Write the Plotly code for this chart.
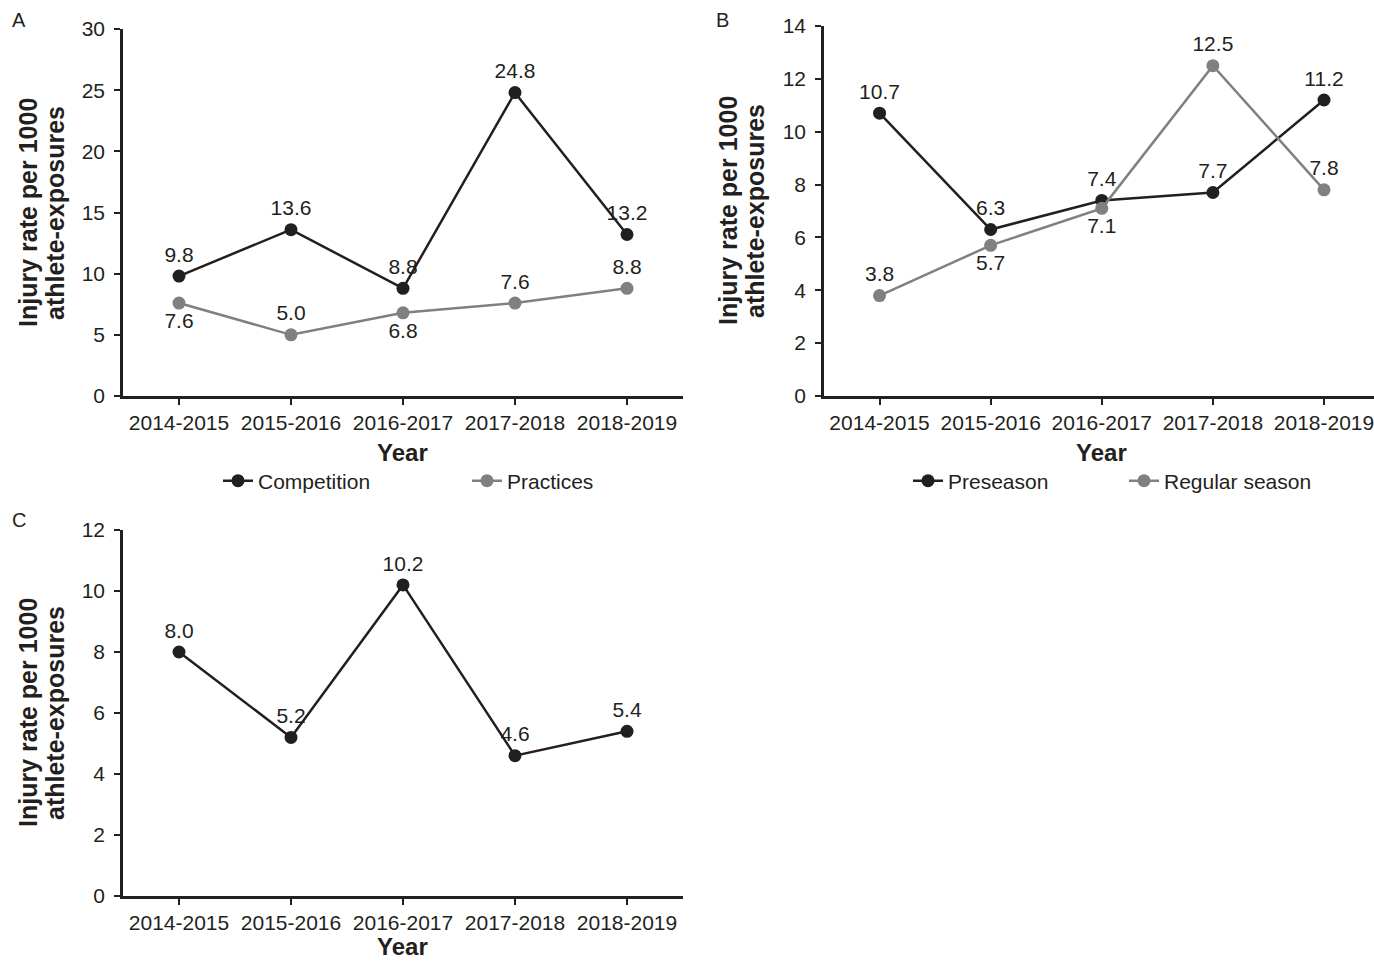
import plotly.graph_objects as go

years = ["2014-2015", "2015-2016", "2016-2017", "2017-2018", "2018-2019"]

# Panel A
competition = [9.8, 13.6, 8.8, 24.8, 13.2]
practices = [7.6, 5.0, 6.8, 7.6, 8.8]
competition_pos = ["top center"] * 5
practices_pos = ["bottom center", "top center", "bottom center", "top center", "top center"]

# Panel B
preseason = [10.7, 6.3, 7.4, 7.7, 11.2]
regular_season = [3.8, 5.7, 7.1, 12.5, 7.8]
preseason_pos = ["top center"] * 5
regular_pos = ["top center", "bottom center", "bottom center", "top center", "top center"]

# Panel C
overall = [8.0, 5.2, 10.2, 4.6, 5.4]
overall_pos = ["top center"] * 5

W, H = 1374, 961
DARK = "#231f20"
GRAY = "#808080"
FONT = "Liberation Sans, Arial, sans-serif"
FS = 21

def px_x(p):
    return p / W

def px_y(p):
    return 1 - p / H

fig = go.Figure()

def add_series(y, pos, name, color, xa, ya, legend=None, show=True):
    fig.add_trace(go.Scatter(
        x=years, y=y, name=name, mode="lines+markers+text",
        text=[f"{v:.1f}" for v in y], textposition=pos,
        textfont=dict(size=FS, color=DARK, family=FONT),
        line=dict(color=color, width=2.5),
        marker=dict(color=color, size=13),
        xaxis=xa, yaxis=ya, showlegend=show,
        legend=legend if legend else "legend",
        cliponaxis=False,
    ))

add_series(competition, competition_pos, "Competition", DARK, "x", "y", "legend")
add_series(practices, practices_pos, "Practices", GRAY, "x", "y", "legend")
add_series(preseason, preseason_pos, "Preseason", DARK, "x2", "y2", "legend2")
add_series(regular_season, regular_pos, "Regular season", GRAY, "x2", "y2", "legend2")
add_series(overall, overall_pos, "Overall", DARK, "x3", "y3", None, show=False)

axis_common = dict(
    showline=True, linecolor=DARK, linewidth=2.5, showgrid=False, zeroline=False,
    ticks="outside", ticklen=6, tickwidth=2, tickcolor=DARK, automargin=False,
    tickfont=dict(size=FS, color=DARK, family=FONT),
)

xa_common = dict(axis_common, type="category", fixedrange=True)
ya_common = dict(axis_common, ticklabelstandoff=5)

fig.update_layout(
    width=W, height=H,
    margin=dict(l=0, r=0, t=0, b=0, autoexpand=False),
    paper_bgcolor="white", plot_bgcolor="white",
    font=dict(family=FONT, color=DARK),
    xaxis=dict(xa_common, domain=[px_x(123), px_x(683)], range=[-0.5, 4.5], anchor="y"),
    yaxis=dict(ya_common, domain=[px_y(396), px_y(29)], range=[0, 30], dtick=5, anchor="x"),
    xaxis2=dict(xa_common, domain=[px_x(824), 1.0], range=[-0.5, 4.45], anchor="y2"),
    yaxis2=dict(ya_common, domain=[px_y(396), px_y(26)], range=[0, 14], dtick=2, anchor="x2"),
    xaxis3=dict(xa_common, domain=[px_x(123), px_x(683)], range=[-0.5, 4.5], anchor="y3"),
    yaxis3=dict(ya_common, domain=[px_y(896), px_y(530)], range=[0, 12], dtick=2, anchor="x3"),
    legend=dict(orientation="h", x=px_x(218), xanchor="left", y=px_y(481), yanchor="middle",
                font=dict(size=FS, color=DARK, family=FONT), entrywidth=204,
                bgcolor="rgba(0,0,0,0)"),
    legend2=dict(orientation="h", x=px_x(908), xanchor="left", y=px_y(481), yanchor="middle",
                 font=dict(size=FS, color=DARK, family=FONT), entrywidth=171,
                 bgcolor="rgba(0,0,0,0)"),
)

def ann(text, x, y, size=FS, bold=False, angle=0):
    fig.add_annotation(
        text=f"<b>{text}</b>" if bold else text,
        x=px_x(x), y=px_y(y), xref="paper", yref="paper",
        xanchor="center", yanchor="middle", showarrow=False, textangle=angle,
        font=dict(size=size, color=DARK, family=FONT),
    )

# Panel letters
ann("A", 19, 20, size=20)
ann("B", 722, 20, size=20)
ann("C", 19, 520, size=20)

# Y titles
for (x1, x2, yc) in [(28, 55, 213), (728, 755, 211), (28, 55, 713)]:
    ann("Injury rate per 1000", x1, yc, size=25, bold=True, angle=-90)
    ann("athlete-exposures", x2, yc, size=25, bold=True, angle=-90)

# X titles
ann("Year", 402, 452, size=24, bold=True)
ann("Year", 1101, 452, size=24, bold=True)
ann("Year", 402, 946, size=24, bold=True)

fig.write_html(
    "out.html",
    config={"displayModeBar": False},
    post_script="document.body.style.margin='0';document.body.style.overflow='hidden';",
)
